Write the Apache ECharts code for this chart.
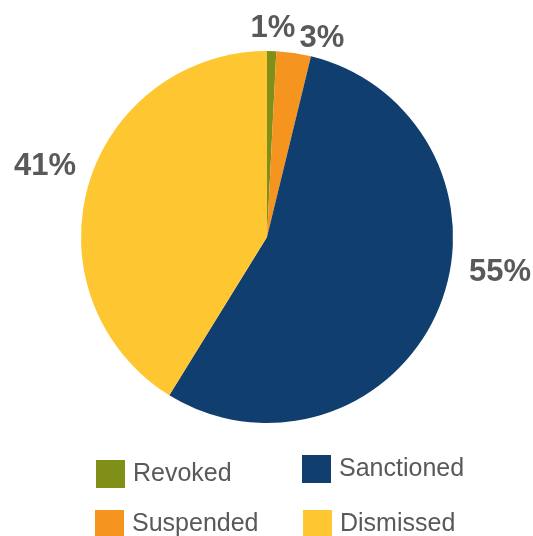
<!DOCTYPE html>
<html>
<head>
<meta charset="utf-8">
<script src="https://cdn.jsdelivr.net/npm/echarts@6/dist/echarts.min.js"></script>
<style>html,body{margin:0;padding:0;background:#fff}#c{width:533px;height:536px}</style>
</head>
<body>
<div id="c"></div>
<script>
const categories = ['Revoked', 'Suspended', 'Sanctioned', 'Dismissed'];
const values = [0.8, 3.0, 55.0, 41.2];
const labels = ['1%', '3%', '55%', '41%'];
const colors = ['#808F18', '#F5951F', '#103F6F', '#FEC631'];

const labelPos = [[273, 28], [322, 38], [500, 272], [45, 166]];
const legendPos = [
  {name: 'Revoked', left: 96, top: 460},
  {name: 'Sanctioned', left: 302, top: 455},
  {name: 'Suspended', left: 95, top: 510},
  {name: 'Dismissed', left: 303, top: 510}
];

const chart = echarts.init(document.getElementById('c'));
chart.setOption({
  animation: false,
  legend: legendPos.map(p => ({
    data: [p.name],
    left: p.left,
    top: p.top,
    padding: 0,
    icon: 'rect',
    itemWidth: 29,
    itemHeight: 28,
    textStyle: {fontFamily: 'Liberation Sans', fontSize: 25, color: '#595959', padding: [0, 0, 0, 3]}
  })),
  series: [{
    type: 'pie',
    center: [267, 237],
    radius: 186,
    startAngle: 90,
    clockwise: true,
    data: categories.map((c, i) => ({name: c, value: values[i], itemStyle: {color: colors[i]}})),
    label: {
      show: true,
      position: 'outside',
      overflow: 'none',
      edgeDistance: 0,
      formatter: p => labels[p.dataIndex],
      fontFamily: 'Liberation Sans',
      fontWeight: 'bold',
      fontSize: 31,
      color: '#595959'
    },
    labelLine: {show: false},
    labelLayout: p => ({x: labelPos[p.dataIndex][0], y: labelPos[p.dataIndex][1], align: 'center', verticalAlign: 'middle'})
  }]
});
</script>
</body>
</html>
